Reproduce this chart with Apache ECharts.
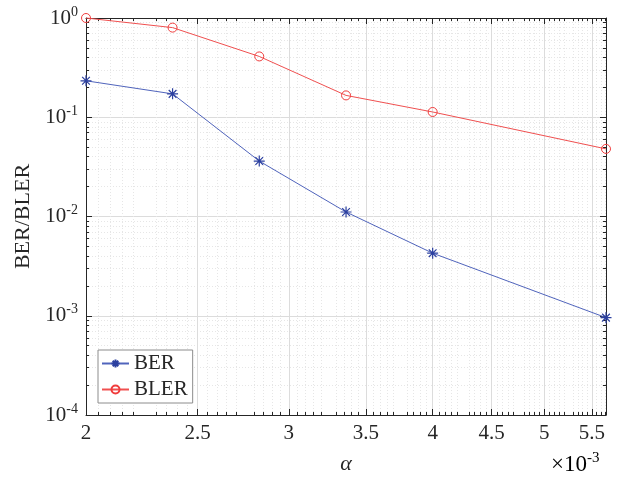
<!DOCTYPE html>
<html>
<head>
<meta charset="utf-8">
<script src="https://cdn.jsdelivr.net/npm/echarts@6/dist/echarts.min.js"></script>
<style>
  html, body { margin: 0; background: #fff; }
  #chart { width: 618px; height: 480px; }
</style>
</head>
<body>
<div id="chart"></div>
<script>
// alpha in units of 1e-3
const alpha = [2.0, 2.378, 2.828, 3.364, 4.0, 5.657];
const ber = [0.233, 0.172, 0.0362, 0.0111, 0.00427, 0.000957];
const bler = [1.0, 0.80, 0.41, 0.166, 0.113, 0.048];
const xTicks = [2, 2.5, 3, 3.5, 4, 4.5, 5, 5.5];
const yTicks = [1e-4, 1e-3, 1e-2, 1e-1, 1];

const X_MIN = 2, X_MAX = 5.657;
const FONT = 'Liberation Serif';
const AXIS_COLOR = '#262626';

// minor ticks: 0.05 steps on x, 2..9 per decade on y
const xMinor = [];
for (let k = 41; k < 114; k++) {
  if (k % 10 !== 0 && k % 10 !== 5) xMinor.push(k / 20);
}
const yMinor = [];
for (let d = -4; d < 0; d++) {
  for (let k = 2; k <= 9; k++) yMinor.push(k * Math.pow(10, d));
}

const supRich = {
  b: { fontFamily: FONT, fontSize: 21, color: AXIS_COLOR },
  s: { fontFamily: FONT, fontSize: 14, color: AXIS_COLOR, padding: [0, 0, 12, 0] }
};

function xAxisOf(pos, major) {
  return {
    type: 'log', logBase: 10, min: X_MIN, max: X_MAX, position: pos,
    axisLine: { show: major, onZero: false, lineStyle: { color: AXIS_COLOR, width: 1 } },
    axisTick: {
      show: true, inside: true, length: major ? 6 : 3,
      customValues: major ? xTicks : xMinor,
      lineStyle: { color: AXIS_COLOR, width: 1 }
    },
    axisLabel: {
      show: major && pos === 'bottom',
      customValues: major ? xTicks : xMinor,
      formatter: v => String(+(+v).toFixed(2)),
      fontFamily: FONT, fontSize: 21, color: AXIS_COLOR, margin: 8
    },
    splitLine: {
      show: pos === 'bottom',
      lineStyle: major ? { color: '#dcdcdc', width: 1 } : { color: '#e6e6e6', width: 1, type: [1, 2] }
    }
  };
}

function yAxisOf(pos, major) {
  return {
    type: 'log', logBase: 10, min: 1e-4, max: 1, position: pos,
    axisLine: { show: major, onZero: false, lineStyle: { color: AXIS_COLOR, width: 1 } },
    axisTick: {
      show: true, inside: true, length: major ? 6 : 3,
      customValues: major ? yTicks : yMinor,
      lineStyle: { color: AXIS_COLOR, width: 1 }
    },
    axisLabel: {
      show: major && pos === 'left',
      customValues: major ? yTicks : yMinor,
      formatter: v => '{b|10}{s|' + Math.round(Math.log10(v)) + '}',
      rich: supRich, margin: 8
    },
    splitLine: {
      show: pos === 'left',
      lineStyle: major ? { color: '#dcdcdc', width: 1 } : { color: '#e6e6e6', width: 1, type: [1, 2] }
    }
  };
}

const xAxes = [xAxisOf('bottom', true), xAxisOf('bottom', false), xAxisOf('top', true), xAxisOf('top', false)];
xAxes[0].name = 'α';
xAxes[0].nameLocation = 'middle';
xAxes[0].nameGap = 38;
xAxes[0].nameTextStyle = { fontFamily: FONT, fontSize: 22, fontStyle: 'italic', color: AXIS_COLOR };

const yAxes = [yAxisOf('left', true), yAxisOf('left', false), yAxisOf('right', true), yAxisOf('right', false)];
yAxes[0].name = 'BER/BLER';
yAxes[0].nameLocation = 'middle';
yAxes[0].nameGap = 50;
yAxes[0].nameTextStyle = { fontFamily: FONT, fontSize: 22, color: AXIS_COLOR };

const chart = echarts.init(document.getElementById('chart'));
chart.setOption({
  animation: false,
  backgroundColor: '#fff',
  grid: { left: 86, right: 12, top: 18, bottom: 63 },
  xAxis: xAxes,
  yAxis: yAxes,
  legend: {
    orient: 'vertical', left: 98, top: 350,
    data: ['BER', 'BLER'],
    itemWidth: 27, itemHeight: 10, itemGap: 5,
    padding: [3, 5, 3, 3],
    borderColor: '#8c8c8c', borderWidth: 1, backgroundColor: '#fff',
    textStyle: { fontFamily: FONT, fontSize: 21, color: AXIS_COLOR }
  },
  graphic: [{
    type: 'text', left: 551, top: 451,
    style: {
      text: '{b|×10}{s|-3}',
      rich: {
        b: { fontFamily: FONT, fontSize: 23, color: AXIS_COLOR },
        s: { fontFamily: FONT, fontSize: 15, color: AXIS_COLOR, padding: [0, 0, 13, 0] }
      }
    }
  }],
  series: [
    {
      name: 'BER', type: 'line', clip: false,
      data: alpha.map((a, i) => [a, ber[i]]),
      symbol: 'path://M10,0L10,20M0,10L20,10M3,3L17,17M3,17L17,3',
      symbolSize: 11, symbolKeepAspect: true,
      lineStyle: { color: '#5064bc', width: 1 },
      itemStyle: { color: 'transparent', borderColor: '#2c40a0', borderWidth: 1.2 }
    },
    {
      name: 'BLER', type: 'line', clip: false,
      data: alpha.map((a, i) => [a, bler[i]]),
      symbol: 'circle', symbolSize: 9,
      lineStyle: { color: '#f05050', width: 1 },
      itemStyle: { color: 'transparent', borderColor: '#f03c3c', borderWidth: 1 }
    }
  ]
});
</script>
</body>
</html>
